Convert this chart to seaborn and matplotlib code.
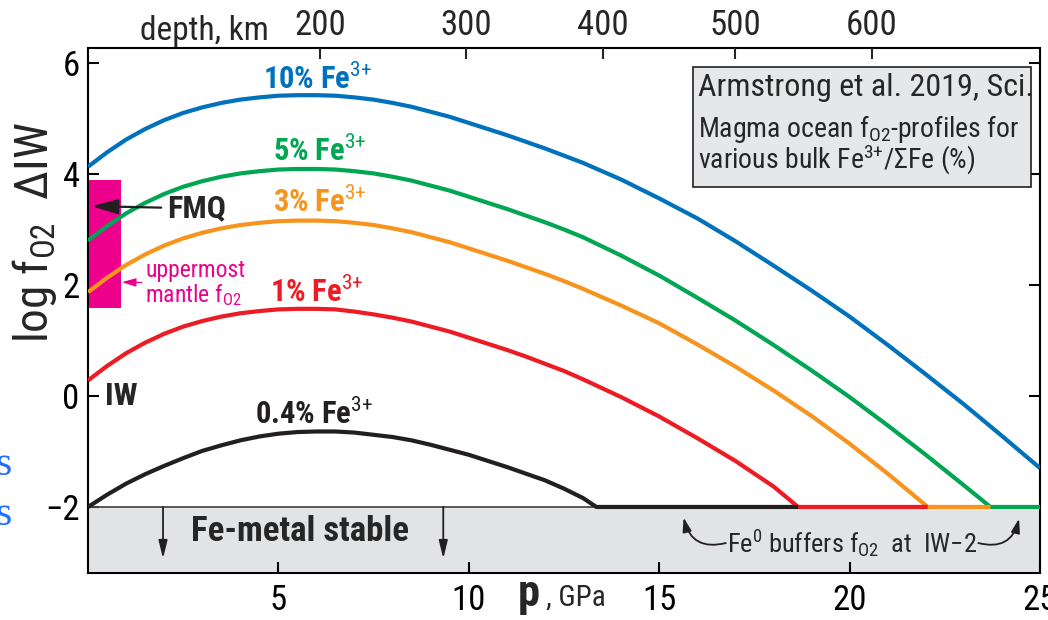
import numpy as np
import pandas as pd
import matplotlib
matplotlib.use("Agg")
import matplotlib.pyplot as plt
import matplotlib.transforms as mtransforms
from matplotlib.patches import Rectangle
from matplotlib import font_manager
import seaborn as sns

# ---------------- data ----------------
p_10 = [0, 0.5, 1, 1.5, 2, 2.5, 3, 3.5, 4, 4.5, 5, 5.5, 6, 6.5, 7, 7.5, 8, 8.5, 9, 9.5, 10,
        10.5, 11, 11.5, 12, 12.5, 13, 14, 15, 16, 17, 18, 19, 20, 21, 22, 23, 24, 25]
fo2_10 = [4.13, 4.39, 4.62, 4.81, 4.97, 5.10, 5.20, 5.28, 5.34, 5.38, 5.41, 5.42, 5.42, 5.41, 5.38,
          5.34, 5.28, 5.21, 5.12, 5.03, 4.92, 4.81, 4.70, 4.58, 4.46, 4.33, 4.20,
          3.90, 3.56, 3.20, 2.79, 2.35, 1.90, 1.43, 0.92, 0.39, -0.15, -0.72, -1.30]

p_5 = [0, 0.5, 1, 1.5, 2, 2.5, 3, 3.5, 4, 4.5, 5, 5.5, 6, 6.5, 7, 7.5, 8, 8.5, 9, 9.5, 10,
       10.5, 11, 11.5, 12, 12.5, 13, 14, 15, 16, 17, 18, 19, 20, 21, 22, 23, 23.7, 25]
fo2_5 = [2.80, 3.06, 3.29, 3.48, 3.64, 3.77, 3.87, 3.95, 4.01, 4.05, 4.08, 4.09, 4.09, 4.08, 4.05,
         4.01, 3.95, 3.88, 3.79, 3.70, 3.59, 3.48, 3.37, 3.25, 3.13, 3.00, 2.86,
         2.53, 2.17, 1.77, 1.36, 0.92, 0.46, -0.02, -0.53, -1.06, -1.61, -2.0, -2.0]

p_3 = [0, 0.5, 1, 1.5, 2, 2.5, 3, 3.5, 4, 4.5, 5, 5.5, 6, 6.5, 7, 7.5, 8, 8.5, 9, 9.5, 10,
       10.5, 11, 11.5, 12, 12.5, 13, 14, 15, 16, 17, 18, 19, 20, 21, 22, 22.05, 23.7]
fo2_3 = [1.87, 2.13, 2.36, 2.55, 2.71, 2.84, 2.94, 3.02, 3.08, 3.12, 3.15, 3.16, 3.16, 3.15, 3.12,
         3.08, 3.02, 2.95, 2.86, 2.77, 2.66, 2.55, 2.44, 2.32, 2.20, 2.07, 1.93,
         1.63, 1.31, 0.93, 0.53, 0.10, -0.36, -0.86, -1.40, -1.97, -2.0, -2.0]

p_1 = [0, 0.5, 1, 1.5, 2, 2.5, 3, 3.5, 4, 4.5, 5, 5.5, 6, 6.5, 7, 7.5, 8, 8.5, 9, 9.5, 10,
       10.5, 11, 11.5, 12, 12.5, 13, 14, 15, 16, 17, 18, 18.65, 22.05]
fo2_1 = [0.28, 0.54, 0.77, 0.96, 1.12, 1.25, 1.35, 1.43, 1.49, 1.53, 1.56, 1.57, 1.57, 1.56, 1.52,
         1.47, 1.41, 1.34, 1.25, 1.16, 1.05, 0.94, 0.83, 0.71, 0.58, 0.45, 0.30,
         -0.02, -0.37, -0.76, -1.17, -1.63, -2.0, -2.0]

p_04 = [0, 0.5, 1, 1.5, 2, 2.5, 3, 3.5, 4, 4.5, 5, 5.5, 6, 6.5, 7, 7.5, 8, 8.5, 9, 9.5, 10,
        10.5, 11, 11.5, 12, 12.5, 13, 13.35, 18.65]
fo2_04 = [-2.0, -1.78, -1.58, -1.41, -1.26, -1.12, -0.99, -0.89, -0.80, -0.73, -0.68, -0.65, -0.64,
          -0.64, -0.66, -0.70, -0.74, -0.80, -0.88, -0.97, -1.06, -1.17, -1.28, -1.40, -1.52,
          -1.67, -1.84, -2.0, -2.0]

series_names = ["10%", "5%", "3%", "1%", "0.4%"]
series_colors = ["#0072BC", "#00A651", "#F7941D", "#ED1C24", "#231F20"]

depth_km = ["200", "300", "400", "500", "600"]
depth_p = [6.10, 9.93, 13.53, 17.0, 20.58]

y_ticks = [6, 4, 2, 0, -2]
y_ticklabels = ["6", "4", "2", "0", "\u22122"]
x_ticks = [5, 10, 15, 20, 25]

# ---------------- fonts ----------------
sns.set_theme(style="ticks")
ttf = font_manager.fontManager.ttflist
names = {f.name for f in ttf}
FONT, W = None, 1.0
for cand in ["Roboto Condensed", "Liberation Sans Narrow", "Noto Sans Condensed",
             "Open Sans Condensed", "Arial Narrow"]:
    if cand in names:
        FONT = cand
        break
if FONT is None:
    FONT, W = "Liberation Sans", 0.88

plt.rcParams["font.family"] = [FONT, "DejaVu Sans"]
plt.rcParams["mathtext.fontset"] = "custom"
plt.rcParams["mathtext.rm"] = FONT
plt.rcParams["mathtext.it"] = FONT + ":italic"
plt.rcParams["mathtext.bf"] = FONT + ":bold"
plt.rcParams["mathtext.sf"] = FONT
plt.rcParams["axes.linewidth"] = 1.5


def fs(x):
    return x * W


frames = []
for name, pp, vv in zip(series_names,
                        [p_10, p_5, p_3, p_1, p_04],
                        [fo2_10, fo2_5, fo2_3, fo2_1, fo2_04]):
    frames.append(pd.DataFrame({"p": pp, "fo2": vv, "series": name}))
df = pd.concat(frames, ignore_index=True)

fig = plt.figure(figsize=(10.48, 6.2), dpi=100)
ax = fig.add_axes([88 / 1048, 1 - 573 / 620, (1040 - 88) / 1048, (573 - 48) / 620])
ax.set_xlim(0, 25)
ax.set_ylim(-3.19, 6.27)

# Fe-metal field
ax.axhspan(-3.19, -2.0, color="#E2E3E4", zorder=0, lw=0)
ax.axhline(-2.0, color="#4D4D4F", lw=1.3, zorder=1)

# uppermost mantle box
ax.add_patch(Rectangle((0, 1.59), 0.87, 2.30, facecolor="#EC008C", edgecolor="none", zorder=1))

sns.lineplot(data=df, x="p", y="fo2", hue="series", hue_order=series_names,
             palette=dict(zip(series_names, series_colors)), estimator=None, sort=False,
             lw=3.0, legend=False, ax=ax, zorder=3)
for ln in ax.get_lines():
    ln.set_solid_joinstyle("round")
    ln.set_solid_capstyle("butt")

# axes, ticks
ax.set_xticks(x_ticks)
ax.set_yticks(y_ticks)
ax.set_yticklabels(y_ticklabels)
ax.tick_params(axis="both", direction="in", length=8, width=1.5, labelsize=fs(25), colors="black",
               right=True, top=False)
ax.tick_params(axis="x", pad=8)
ax.tick_params(axis="y", pad=6)
ax.set_xlabel("")
ax.set_ylabel("")
for s in ax.spines.values():
    s.set_color("black")
    s.set_linewidth(1.5)

top = ax.twiny()
top.set_xlim(0, 25)
top.set_xticks(depth_p)
top.set_xticklabels(depth_km)
top.tick_params(axis="x", direction="in", length=8, width=1.5, labelsize=fs(25), pad=4)
top.grid(False)
for s in top.spines.values():
    s.set_visible(False)

# curve labels
lab_y = [5.71, 4.41, 3.48, 1.87, -0.34]
lab_x = [4.60, 4.86, 4.86, 4.78, 4.39]
for name, c, x, y in zip(series_names, series_colors, lab_x, lab_y):
    ax.text(x, y, name + " Fe$^{3{+}}$", color=c, fontsize=fs(22), fontweight="bold",
            ha="left", va="center", zorder=5)

# FMQ and IW
ax.annotate("FMQ", xy=(0.1, 3.42), xytext=(2.08, 3.38), fontsize=fs(23), fontweight="bold",
            ha="left", va="center", zorder=6,
            arrowprops=dict(arrowstyle="-|>,head_length=0.7,head_width=0.2", color="#231F20",
                            lw=1.6, shrinkA=2, shrinkB=0))
ax.text(0.45, 0.0, "IW", fontsize=fs(23), fontweight="bold", ha="left", va="center", zorder=6)

ax.annotate("uppermost\nmantle f$_{\\mathrm{O2}}$", xy=(0.89, 2.05), xytext=(1.5, 2.03),
            fontsize=fs(17), color="#EC008C", ha="left", va="center", linespacing=1.0, zorder=6,
            arrowprops=dict(arrowstyle="-|>,head_length=0.5,head_width=0.15", color="#EC008C",
                            lw=0.9, shrinkA=0, shrinkB=0))

# Fe-metal stable
ax.text(5.57, -2.45, "Fe-metal stable", fontsize=fs(25), fontweight="bold", ha="center",
        va="center", zorder=6)
for xa in [1.97, 9.33]:
    ax.annotate("", xy=(xa, -2.93), xytext=(xa, -2.0), zorder=6,
                arrowprops=dict(arrowstyle="-|>,head_length=0.9,head_width=0.22", color="#231F20",
                                lw=1.3, shrinkA=0, shrinkB=0))

ax.text(20.07, -2.65, "Fe$^{0}$ buffers f$_{\\mathrm{O2}}$  at  IW\u22122", fontsize=fs(19),
        ha="center", va="center", zorder=6)
ax.annotate("", xy=(15.64, -2.19), xytext=(16.75, -2.65), zorder=6,
            arrowprops=dict(arrowstyle="-|>,head_length=0.7,head_width=0.22", color="#231F20",
                            lw=1.3, shrinkA=0, shrinkB=0, connectionstyle="arc3,rad=-0.5"))
ax.annotate("", xy=(24.45, -2.21), xytext=(23.38, -2.65), zorder=6,
            arrowprops=dict(arrowstyle="-|>,head_length=0.7,head_width=0.22", color="#231F20",
                            lw=1.3, shrinkA=0, shrinkB=0, connectionstyle="arc3,rad=0.5"))

# info box
ax.add_patch(Rectangle((15.9, 3.77), 8.86, 2.16, facecolor="#E6E7E8", edgecolor="#231F20",
                       lw=1.2, zorder=4))
ax.text(16.02, 5.41, "Armstrong et al. 2019, Sci.", fontsize=fs(23), ha="left", va="baseline", zorder=5)
ax.text(16.02, 4.67, "Magma ocean f$_{\\mathrm{O2}}$-profiles for", fontsize=fs(20), ha="left",
        va="baseline", zorder=5)
ax.text(16.02, 4.09, "various bulk Fe$^{3{+}}$/\u03a3Fe (%)", fontsize=fs(20), ha="left",
        va="baseline", zorder=5)

# axis titles
bt = mtransforms.blended_transform_factory(ax.transAxes, ax.transData)
ax.text(-0.056, 2.95, "log f$_{\\mathrm{O2}}$  \u0394IW", rotation=90, fontsize=fs(34),
        ha="center", va="center", transform=bt)
ax.text(1.37, 1.016, "depth, km", fontsize=fs(24), ha="left", va="baseline",
        transform=mtransforms.blended_transform_factory(ax.transData, ax.transAxes))
fig.text(518 / 1048, 1 - 606 / 620, "p", fontsize=fs(32), fontweight="bold", ha="left", va="baseline")
fig.text(546 / 1048, 1 - 606 / 620, ", GPa", fontsize=fs(21), ha="left", va="baseline")

# cropped fragments at the left edge of the source image
for yy in [465, 515]:
    fig.text(0.003, 1 - yy / 620, "s", fontsize=30, color="#1E6FFF", family="Liberation Serif",
             ha="center", va="center")

fig.savefig("out.png", dpi=100)
